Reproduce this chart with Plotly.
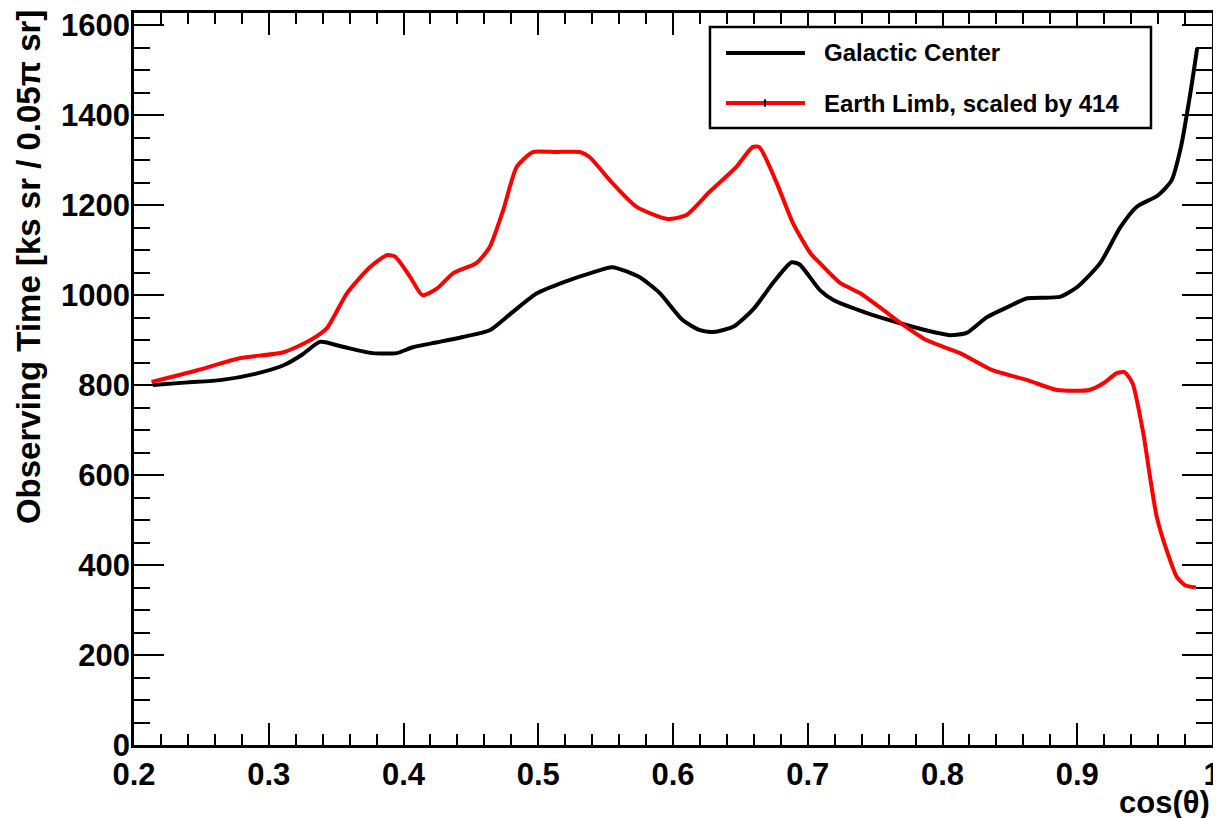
import plotly.graph_objects as go

# Galactic Center curve
gc_x = [0.214, 0.240, 0.264, 0.290, 0.311, 0.325, 0.338, 0.355, 0.377, 0.395,
        0.407, 0.425, 0.444, 0.464, 0.480, 0.499, 0.520, 0.540, 0.555, 0.575,
        0.590, 0.607, 0.620, 0.630, 0.645, 0.660, 0.675, 0.688, 0.694, 0.709,
        0.719, 0.744, 0.768, 0.793, 0.806, 0.818, 0.833, 0.848, 0.863, 0.887,
        0.900, 0.917, 0.932, 0.944, 0.960, 0.970, 0.977, 0.984, 0.989]
gc_y = [800, 806, 811, 825, 844, 868, 896, 885, 871, 871,
        884, 895, 907, 922, 960, 1004, 1030, 1050, 1062, 1040,
        1005, 945, 922, 918, 930, 970, 1030, 1073, 1068, 1011,
        989, 960, 938, 918, 911, 916, 951, 973, 993, 996,
        1018, 1071, 1151, 1196, 1222, 1255, 1330, 1450, 1549]

# Earth Limb curve (scaled by 414)
el_x = [0.213, 0.247, 0.279, 0.311, 0.331, 0.343, 0.358, 0.375, 0.388, 0.394,
        0.405, 0.414, 0.425, 0.437, 0.454, 0.464, 0.474, 0.484, 0.496, 0.513,
        0.531, 0.538, 0.555, 0.573, 0.596, 0.610, 0.627, 0.647, 0.659, 0.664,
        0.677, 0.689, 0.702, 0.709, 0.724, 0.739, 0.756, 0.768, 0.788, 0.813,
        0.837, 0.863, 0.885, 0.909, 0.920, 0.929, 0.935, 0.941, 0.949, 0.954,
        0.959, 0.967, 0.974, 0.980, 0.988]
el_y = [807, 833, 860, 873, 900, 926, 1004, 1062, 1089, 1085,
        1040, 1000, 1015, 1049, 1071, 1107, 1189, 1285, 1318, 1318,
        1318, 1307, 1249, 1196, 1169, 1178, 1229, 1285, 1329, 1329,
        1249, 1160, 1093, 1071, 1027, 1004, 967, 940, 900, 871,
        833, 811, 789, 789, 805, 826, 829, 804, 693, 596,
        507, 427, 373, 355, 350]

names = ["Galactic Center", "Earth Limb, scaled by 414"]
colors = ["black", "#ff0000"]

x_ticks = [0.2, 0.3, 0.4, 0.5, 0.6, 0.7, 0.8, 0.9, 1.0]
x_tick_labels = ["0.2", "0.3", "0.4", "0.5", "0.6", "0.7", "0.8", "0.9", "1"]
y_ticks = [0, 200, 400, 600, 800, 1000, 1200, 1400, 1600]

FONT = "Liberation Sans, Arial, sans-serif"

fig = go.Figure()
for xs, ys, nm, c in [(gc_x, gc_y, names[0], colors[0]), (el_x, el_y, names[1], colors[1])]:
    fig.add_trace(go.Scatter(x=xs, y=ys, mode="lines", name=nm,
                             line=dict(color=c, width=4, shape="spline", smoothing=0.6),
                             showlegend=False))

axis_common = dict(showline=True, linecolor="black", linewidth=2.5, mirror="allticks",
                   ticks="inside", tickcolor="black", tickwidth=2, showgrid=False,
                   zeroline=False, automargin=False,
                   tickfont=dict(family=FONT, size=31, color="black", weight="bold"))

fig.update_xaxes(range=[0.2, 1.0], tickvals=x_ticks, ticktext=x_tick_labels, ticklen=22,
                 minor=dict(dtick=0.02, ticks="inside", ticklen=11, tickwidth=2, tickcolor="black",
                            showgrid=False),
                 **axis_common)
fig.update_yaxes(range=[0, 1627], tickvals=y_ticks, ticklen=30, ticklabelstandoff=-5,
                 minor=dict(dtick=50, ticks="inside", ticklen=16, tickwidth=2, tickcolor="black",
                            showgrid=False),
                 **axis_common)

# manual legend (ROOT-style)
shapes = [dict(type="rect", xref="paper", yref="paper", x0=0.5343, x1=0.9434, y0=0.8429, y1=0.9809,
               line=dict(color="black", width=2.5), fillcolor="white", layer="above")]
annotations = []
leg_y = [0.9454, 0.8770]
for i in range(2):
    shapes.append(dict(type="line", xref="paper", yref="paper", x0=0.5492, x1=0.6224,
                       y0=leg_y[i], y1=leg_y[i], line=dict(color=colors[i], width=4), layer="above"))
    annotations.append(dict(xref="paper", yref="paper", x=0.6382, y=leg_y[i], text=names[i],
                            showarrow=False, xanchor="left", yanchor="middle",
                            font=dict(family=FONT, size=24, color="black", weight="bold")))
shapes.append(dict(type="line", xref="paper", yref="paper", x0=0.5853, x1=0.5853,
                   y0=leg_y[1] - 0.005, y1=leg_y[1] + 0.005, line=dict(color="black", width=2),
                   layer="above"))

annotations.append(dict(xref="paper", yref="paper", x=-0.0983, y=1.0068, textangle=-90,
                        text="Observing Time [ks sr / 0.05π sr]", showarrow=False,
                        xanchor="center", yanchor="top",
                        font=dict(family=FONT, size=33, color="black", weight="bold")))
annotations.append(dict(xref="paper", yref="paper", x=1.0, y=-0.078, text="cos(θ)",
                        showarrow=False, xanchor="right", yanchor="middle",
                        font=dict(family=FONT, size=31, color="black", weight="bold")))

# page body has an 8 px margin; margins compensate so the plot frame lands at
# x 134..1212, y 13..745 in the window
fig.update_layout(width=1221, height=818, margin=dict(l=126, r=17, t=5, b=81, autoexpand=False),
                  paper_bgcolor="white", plot_bgcolor="white", showlegend=False,
                  shapes=shapes, annotations=annotations)

fig.write_html("out.html")
